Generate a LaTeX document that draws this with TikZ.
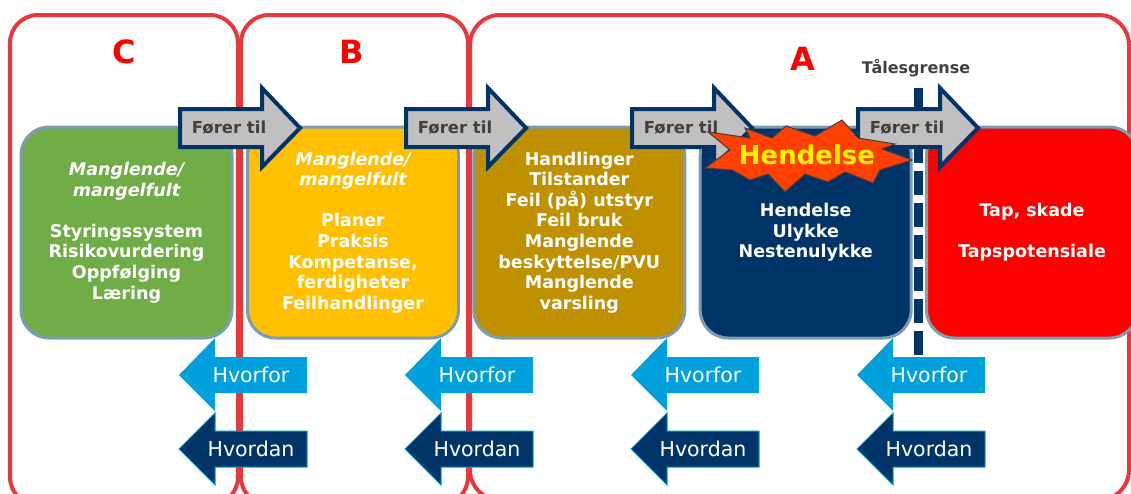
\documentclass[tikz,border=0pt]{standalone}
\usepackage{fontspec}
\setmainfont{DejaVu Sans}
\definecolor{rammerod}{RGB}{232,56,60}
\definecolor{kant}{RGB}{122,156,180}
\definecolor{gronn}{RGB}{112,173,71}
\definecolor{gul}{RGB}{255,192,0}
\definecolor{oliven}{RGB}{191,144,0}
\definecolor{marine}{RGB}{0,51,102}
\definecolor{lysbla}{RGB}{0,160,220}
\definecolor{pilgra}{RGB}{192,192,192}
\definecolor{tekstgra}{RGB}{64,64,64}
\definecolor{stjerne}{RGB}{255,64,0}
\tikzset{
  omraade/.style={draw=rammerod, line width=4pt, rounded corners=28pt},
  boks/.style={rectangle, draw=kant, line width=3pt, rounded corners=28pt, minimum width=211pt, minimum height=211pt, text=white, align=center, font=\bfseries\fontsize{17.5}{20.6}\selectfont},
  forer/.style={draw=marine, fill=pilgra, line width=4pt, line join=miter},
  forertekst/.style={text=tekstgra, font=\bfseries\fontsize{16.5}{19}\selectfont},
  hvorfor/.style={fill=lysbla},
  hvordan/.style={fill=marine, draw=lysbla, line width=1pt},
  piltekst/.style={text=white, font=\fontsize{20.5}{24}\selectfont},
  bokstav/.style={text=red, font=\bfseries\fontsize{32}{36}\selectfont}
}
\begin{document}
\begin{tikzpicture}[x=1pt,y=-1pt]
    \useasboundingbox (0,0) rectangle (1131,493);
    \clip (0,0) rectangle (1131,493);
    \draw[omraade] (10,15) rectangle (238,505);
    \draw[omraade] (241,15) rectangle (468,505);
    \draw[omraade, rounded corners=30pt] (470,15) rectangle (1129,500);
    \node[bokstav] (c) at (124,52) {C};
    \node[bokstav] (b) at (352,52) {B};
    \node[bokstav] (a) at (803,59) {A};
    \node[boks, fill=gronn] (styring) at (126.5,232.5) {{\itshape Manglende/}\\{\itshape mangelfult}\\[20.6pt]Styringssystem\\Risikovurdering\\Oppfølging\\Læring};
    \node[boks, fill=gul] (planer) at (353,232.5) {{\itshape Manglende/}\\{\itshape mangelfult}\\[20.6pt]Planer\\Praksis\\Kompetanse,\\ferdigheter\\Feilhandlinger};
    \node[boks, fill=oliven] (handl) at (579.3,232.5) {Handlinger\\Tilstander\\Feil (på) utstyr\\Feil bruk\\Manglende\\beskyttelse/PVU\\Manglende\\varsling};
    \node[boks, fill=marine] (hend) at (805.7,232.5) {Hendelse\\Ulykke\\Nestenulykke};
    \node[boks, fill=red] (tap) at (1032,232.5) {Tap, skade\\[20.6pt]Tapspotensiale};
    % taalegrense
    \coordinate (tg0) at (918,88);
    \coordinate (tg1) at (918,139);
    \coordinate (tg2) at (918,358);
    \draw[marine, line width=9pt] (tg0) -- (tg1);
    \draw[marine, line width=9pt, dash pattern=on 24pt off 8pt] (tg1) -- (tg2);
    \node[text=tekstgra, font=\bfseries\fontsize{16}{18}\selectfont] (tg) at (916,68) {Tålesgrense};
    \foreach \i in {0,...,3} {
        \pgfmathsetmacro{\xa}{180+226*\i}
        \draw[forer] (\xa,109) -- ++(82,0) -- ++(0,-21) -- ++(38,40) -- ++(-38,39) -- ++(0,-20) -- ++(-82,0) -- cycle;
        \node[forertekst] (forer\i) at (\xa+49,128) {Fører til};
    }
    \filldraw[fill=stjerne, draw=tekstgra, line width=1pt] (705,168) -- (730,150) -- (708,132) -- (750,138) -- (745,128) -- (772,138)
        -- (786,126) -- (815,136) -- (842,120) -- (858,138) -- (895,144) -- (882,149) -- (912,160) -- (880,170)
        -- (873,183) -- (845,172) -- (828,182) -- (805,174) -- (785,192) -- (768,174) -- (750,180) -- (732,170) -- cycle;
    \node[text=yellow, font=\bfseries\fontsize{26}{30}\selectfont] (hendstjerne) at (807,155) {Hendelse};
    \foreach \i in {0,...,3} {
        \pgfmathsetmacro{\xt}{179+226*\i}
        \fill[hvorfor] (\xt,375) -- ++(36,-37) -- ++(0,19) -- ++(92,0) -- ++(0,36) -- ++(-92,0) -- ++(0,18) -- cycle;
        \node[piltekst] (hvorfor\i) at (\xt+72,375) {Hvorfor};
        \draw[hvordan] (\xt,449) -- ++(36,-36) -- ++(0,18) -- ++(92,0) -- ++(0,36) -- ++(-92,0) -- ++(0,18) -- cycle;
        \node[piltekst] (hvordan\i) at (\xt+72,449) {Hvordan};
    }
\end{tikzpicture}
\end{document}
